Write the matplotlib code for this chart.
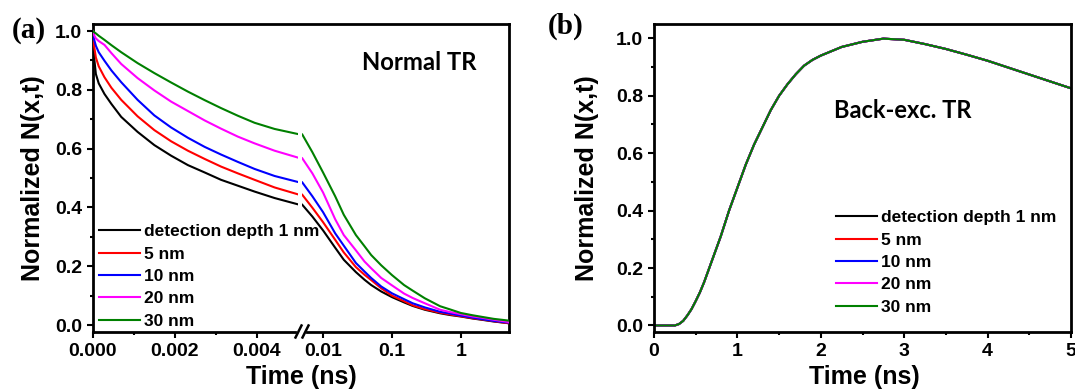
import matplotlib
matplotlib.use('Agg')
import matplotlib.pyplot as plt
from matplotlib.lines import Line2D
from matplotlib.ticker import NullLocator, MultipleLocator, FixedLocator

W, H = 1075, 391
def fx(p): return p / W
def fy(p): return 1 - p / H

# ---------------- data ----------------
labels = ['detection depth 1 nm', '5 nm', '10 nm', '20 nm', '30 nm']
colors = ['#000000', '#ff0000', '#0000ff', '#ff00ff', '#008000']

# panel (a), linear part (ns)
t_lin = [0, 0.00002, 0.00007, 0.00014, 0.00028, 0.00045, 0.00069, 0.00109, 0.0015, 0.00191,
         0.00232, 0.00273, 0.00313, 0.00354, 0.00395, 0.00444, 0.005]
a_lin_1 = [1.0, 0.92, 0.854, 0.822, 0.786, 0.752, 0.708, 0.657, 0.612, 0.576, 0.544, 0.519, 0.494, 0.474, 0.454, 0.432, 0.411]
a_lin_5 = [1.0, 0.955, 0.91, 0.88, 0.843, 0.807, 0.766, 0.710, 0.663, 0.625, 0.593, 0.565, 0.539, 0.516, 0.494, 0.468, 0.445]
a_lin_10 = [1.0, 0.975, 0.95, 0.928, 0.899, 0.866, 0.826, 0.766, 0.713, 0.672, 0.637, 0.606, 0.580, 0.555, 0.531, 0.507, 0.487]
a_lin_20 = [1.0, 0.988, 0.975, 0.966, 0.953, 0.925, 0.888, 0.840, 0.798, 0.760, 0.728, 0.696, 0.668, 0.641, 0.618, 0.593, 0.570]
a_lin_30 = [1.0, 0.997, 0.992, 0.984, 0.970, 0.952, 0.928, 0.891, 0.857, 0.825, 0.794, 0.765, 0.738, 0.712, 0.688, 0.667, 0.650]

# panel (a), log part (ns)
t_log = [0.005, 0.007, 0.01, 0.015, 0.02, 0.03, 0.04, 0.05, 0.07, 0.1,
         0.15, 0.2, 0.3, 0.5, 0.7, 1, 1.5, 2, 3, 5]
a_log_1 = [0.409, 0.369, 0.322, 0.263, 0.222, 0.180, 0.154, 0.136, 0.114, 0.095,
           0.077, 0.065, 0.052, 0.040, 0.034, 0.029, 0.022, 0.018, 0.012, 0.006]
a_log_5 = [0.443, 0.399, 0.350, 0.290, 0.247, 0.197, 0.171, 0.153, 0.125, 0.100,
           0.081, 0.067, 0.054, 0.042, 0.036, 0.030, 0.023, 0.019, 0.013, 0.006]
a_log_10 = [0.485, 0.438, 0.384, 0.312, 0.270, 0.211, 0.182, 0.160, 0.131, 0.108,
            0.088, 0.074, 0.060, 0.045, 0.039, 0.032, 0.025, 0.020, 0.014, 0.008]
a_log_20 = [0.567, 0.516, 0.451, 0.360, 0.306, 0.254, 0.216, 0.193, 0.160, 0.135,
            0.107, 0.092, 0.074, 0.052, 0.044, 0.037, 0.029, 0.025, 0.018, 0.010]
a_log_30 = [0.648, 0.588, 0.519, 0.438, 0.375, 0.306, 0.268, 0.238, 0.203, 0.170,
            0.136, 0.117, 0.091, 0.064, 0.053, 0.041, 0.033, 0.028, 0.021, 0.015]

# panel (b): all five depths coincide
t_b = [0, 0.2, 0.25, 0.3, 0.35, 0.4, 0.45, 0.5, 0.55, 0.6, 0.7, 0.8, 0.9, 1.0,
       1.1, 1.2, 1.3, 1.4, 1.5, 1.6, 1.7, 1.8, 1.9, 2.0, 2.25, 2.5, 2.75,
       3.0, 3.25, 3.5, 3.75, 4.0, 4.5, 5.0]
b_1 = [0.0, 0.0, 0.0, 0.005, 0.016, 0.035, 0.057, 0.085, 0.115, 0.15, 0.23, 0.31, 0.40, 0.48,
       0.56, 0.63, 0.69, 0.75, 0.80, 0.84, 0.875, 0.905, 0.925, 0.94, 0.97, 0.988, 0.999,
       0.995, 0.98, 0.963, 0.943, 0.922, 0.874, 0.826]
b_5 = list(b_1)
b_10 = list(b_1)
b_20 = list(b_1)
b_30 = list(b_1)

lin_series = [a_lin_1, a_lin_5, a_lin_10, a_lin_20, a_lin_30]
log_series = [a_log_1, a_log_5, a_log_10, a_log_20, a_log_30]
b_series = [b_1, b_5, b_10, b_20, b_30]

# ---------------- style ----------------
plt.rcParams['font.family'] = ['Liberation Sans', 'DejaVu Sans']
plt.rcParams['font.weight'] = 'bold'
SPW = 2.0
LW = 1.5
TICKFS = 14
LABFS = 18

fig = plt.figure(figsize=(W / 100, H / 100), dpi=100)

def style_ticks(ax):
    ax.tick_params(which='major', direction='out', length=4.5, width=1.5,
                   labelsize=TICKFS, pad=3.5)
    ax.tick_params(which='minor', direction='out', length=2.5, width=1.5)
    for lab in ax.get_xticklabels() + ax.get_yticklabels():
        lab.set_fontweight('bold')

# ---------------- panel (a) ----------------
L, R, T, B = 93, 509, 24, 331.5
xm1, xm2 = 297.5, 302.3
ylim_a = (-0.022, 1.024)

frame = fig.add_axes([fx(L), fy(B), fx(R) - fx(L), fy(T) - fy(B)])
frame.set_xticks([]); frame.set_yticks([])
for s in frame.spines.values():
    s.set_linewidth(SPW)

ax_lin = fig.add_axes([fx(L), fy(B), fx(xm1) - fx(L), fy(T) - fy(B)])
ax_log = fig.add_axes([fx(xm2), fy(B), fx(R) - fx(xm2), fy(T) - fy(B)])
for ax in (ax_lin, ax_log):
    ax.patch.set_visible(False)
    for s in ax.spines.values():
        s.set_visible(False)

handles = []
for ys, c, lab in zip(lin_series, colors, labels):
    h, = ax_lin.plot(t_lin, ys, color=c, lw=LW, label=lab)
    handles.append(h)
for ys, c in zip(log_series, colors):
    ax_log.plot(t_log, ys, color=c, lw=LW)

ax_lin.set_xlim(0, 0.005)
ax_lin.set_ylim(*ylim_a)
ax_lin.set_xticks([0, 0.002, 0.004])
ax_lin.set_xticklabels(['0.000', '0.002', '0.004'])
ax_lin.xaxis.set_minor_locator(FixedLocator([0.001, 0.003]))
ax_lin.set_yticks([0, 0.2, 0.4, 0.6, 0.8, 1.0])
ax_lin.set_yticklabels(['0.0', '0.2', '0.4', '0.6', '0.8', '1.0'])
ax_lin.yaxis.set_minor_locator(MultipleLocator(0.1))
style_ticks(ax_lin)

ax_log.set_xscale('log')
ax_log.set_xlim(0.005, 5)
ax_log.set_ylim(*ylim_a)
ax_log.set_xticks([0.01, 0.1, 1])
ax_log.set_xticklabels(['0.01', '0.1', '1'])
ax_log.xaxis.set_minor_locator(NullLocator())
ax_log.set_yticks([])
style_ticks(ax_log)

# axis break marks
fig.add_artist(Line2D([fx(299), fx(304)], [fy(B), fy(B)], color='white', lw=3,
                      transform=fig.transFigure))
for x0 in (295.5, 302.5):
    fig.add_artist(Line2D([fx(x0), fx(x0 + 6)], [fy(337.5), fy(325.5)], color='black',
                          lw=1.8, transform=fig.transFigure))

leg_kw = dict(loc='upper left', bbox_transform=fig.transFigure,
              frameon=False, borderpad=0, borderaxespad=0, handlelength=2.36,
              handletextpad=0.25, labelspacing=0.42,
              prop=dict(family='Liberation Sans', size=12.5, weight='bold'))
fig.legend(handles=handles, labels=labels, bbox_to_anchor=(fx(99), fy(224)), **leg_kw)

fig.text(fx(419), fy(62), 'Normal TR', ha='center', va='center',
         fontsize=17.2, fontweight='bold', family=['Lato', 'DejaVu Sans'])
fig.text(fx(301), fy(377), 'Time (ns)', ha='center', va='center',
         fontsize=LABFS, fontweight='bold')
fig.text(fx(33), fy(178), 'Normalized N(x,t)', ha='center', va='center',
         rotation=90, fontsize=LABFS, fontweight='bold')
fig.text(fx(28.5), fy(31), '(a)', ha='center', va='center', fontsize=21,
         fontweight='bold', family=['Liberation Serif', 'DejaVu Serif'])

# ---------------- panel (b) ----------------
Lb, Rb = 654, 1071
ax_b = fig.add_axes([fx(Lb), fy(B), fx(Rb) - fx(Lb), fy(T) - fy(B)])
for s in ax_b.spines.values():
    s.set_linewidth(SPW)
hb = []
for ys, c, lab in zip(b_series, colors, labels):
    h, = ax_b.plot(t_b, ys, color=c, lw=LW, label=lab)
    hb.append(h)
ax_b.set_xlim(0, 5)
ax_b.set_ylim(-0.021, 1.05)
ax_b.set_xticks([0, 1, 2, 3, 4, 5])
ax_b.xaxis.set_minor_locator(MultipleLocator(0.5))
ax_b.set_yticks([0, 0.2, 0.4, 0.6, 0.8, 1.0])
ax_b.set_yticklabels(['0.0', '0.2', '0.4', '0.6', '0.8', '1.0'])
ax_b.yaxis.set_minor_locator(MultipleLocator(0.1))
style_ticks(ax_b)

fig.legend(handles=hb, labels=labels, bbox_to_anchor=(fx(836), fy(210)), **leg_kw)

fig.text(fx(903), fy(110), 'Back-exc. TR', ha='center', va='center',
         fontsize=17, fontweight='bold', family=['Lato', 'DejaVu Sans'])
fig.text(fx(864), fy(377), 'Time (ns)', ha='center', va='center',
         fontsize=LABFS, fontweight='bold')
fig.text(fx(587), fy(178), 'Normalized N(x,t)', ha='center', va='center',
         rotation=90, fontsize=LABFS, fontweight='bold')
fig.text(fx(566), fy(26), '(b)', ha='center', va='center', fontsize=21,
         fontweight='bold', family=['Liberation Serif', 'DejaVu Serif'])

fig.savefig('out.png', dpi=100)
